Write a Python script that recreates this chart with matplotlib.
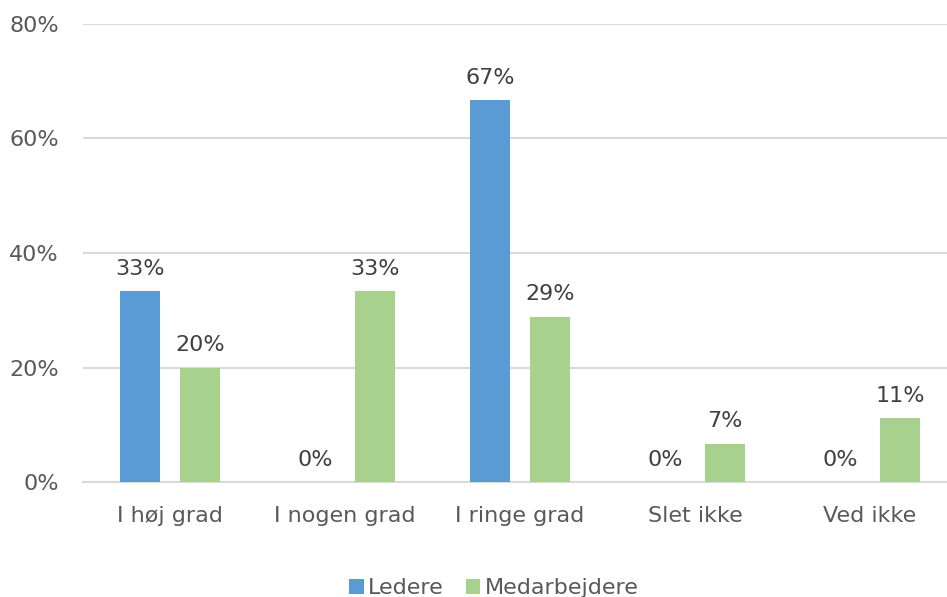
import matplotlib.pyplot as plt
import numpy as np

categories = ['I høj grad', 'I nogen grad', 'I ringe grad', 'Slet ikke', 'Ved ikke']
ledere = [33.3, 0, 66.7, 0, 0]
medarbejdere = [20.0, 33.3, 28.9, 6.7, 11.1]
ledere_labels = ['33%', '0%', '67%', '0%', '0%']
medarb_labels = ['20%', '33%', '29%', '7%', '11%']

blue = '#5B9BD5'
green = '#A9D18E'
grid_col = '#D9D9D9'
txt_col = '#595959'

plt.rcParams['font.family'] = ['DejaVu Sans']

fig = plt.figure(figsize=(9.47, 5.97), dpi=100)
# plot area runs a little past the right edge, like the original
ax = fig.add_axes([82.5 / 947, 1 - 482 / 597, 875 / 947, (482 - 24) / 597])

x = np.arange(len(categories))
w = 0.2286
off = 0.1714
b1 = ax.bar(x - off, ledere, w, color=blue, label='Ledere', zorder=3)
b2 = ax.bar(x + off, medarbejdere, w, color=green, label='Medarbejdere', zorder=3)

for bars, labs in ((b1, ledere_labels), (b2, medarb_labels)):
    for rect, lab in zip(bars, labs):
        ax.annotate(lab, (rect.get_x() + rect.get_width() / 2, rect.get_height()),
                    xytext=(0, 9), textcoords='offset points', ha='center', va='bottom',
                    fontsize=16, color='#404040')

ax.set_xlim(-0.5, 4.5)
ax.set_ylim(0, 80)
ax.set_yticks([0, 20, 40, 60, 80])
ax.set_yticklabels(['0%', '20%', '40%', '60%', '80%'])
ax.set_xticks(x)
ax.set_xticklabels(categories)
ax.tick_params(axis='both', length=0, labelsize=16, labelcolor=txt_col)
ax.tick_params(axis='y', pad=17)
ax.tick_params(axis='x', pad=17)
ax.yaxis.grid(True, color=grid_col, linewidth=1.5, zorder=0)
for s in ['top', 'right', 'left']:
    ax.spines[s].set_visible(False)
ax.spines['bottom'].set_color(grid_col)
ax.spines['bottom'].set_linewidth(1.5)

fig.legend(handles=[b1, b2], loc='center', bbox_to_anchor=(494 / 947, 0.015), ncol=2,
           frameon=False, fontsize=16, labelcolor=txt_col, handlelength=0.65,
           handleheight=0.65, handletextpad=0.2, columnspacing=1.0)

plt.savefig('out.png', dpi=100)
